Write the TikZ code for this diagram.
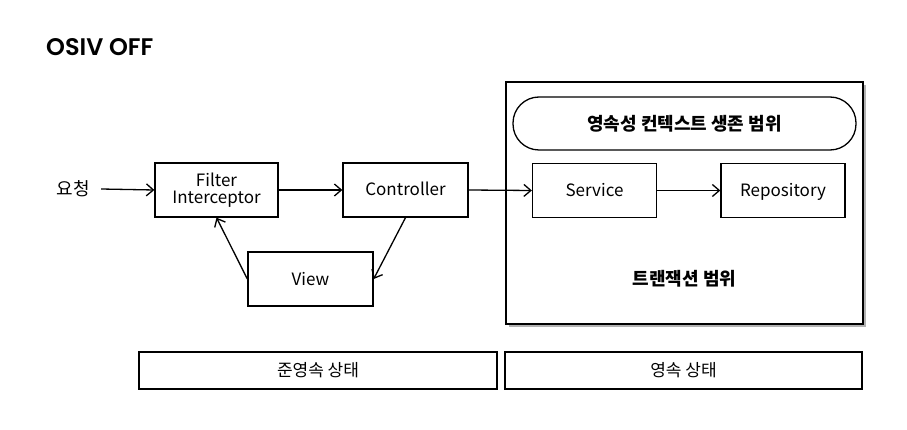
\documentclass[tikz,border=0pt]{standalone}
\usepackage{fontspec}
\setmainfont{Noto Sans CJK KR}
\newfontfamily\titlefont{Poppins}[BoldFont={* SemiBold}]
\usetikzlibrary{arrows.meta}
\tikzset{
  box/.style={draw, line width=1.3pt, inner sep=0pt, font=\fontsize{17}{20}\selectfont},
  oneline/.style={text height=12pt, text depth=0pt},
  arr/.style={line width=1.3pt, -{Straight Barb[length=7pt,width=12pt,line width=1.3pt]}},
  lbl/.style={font=\fontsize{18}{21}\selectfont\bfseries},
}
\begin{document}
\begin{tikzpicture}[x=1pt,y=-1pt]
\useasboundingbox (0,0) rectangle (907,430);
\node[anchor=base west, inner sep=0pt, font=\titlefont\bfseries\fontsize{24}{28}\selectfont] (title) at (46,56) {OSIV OFF};
% big transaction box with shadow
\fill[black!30] (509,85) rectangle (866,327);
\node[box, fill=white, minimum width=357pt, minimum height=242pt] (tx) at (684.5,203) {};
\node[draw, line width=1.3pt, rounded corners=26pt, minimum width=343pt, minimum height=53pt] (pc) at (684.5,123.5) {};
\node[lbl] (pclbl) at (684.5,124) {영속성 컨텍스트 생존 범위};
\node[lbl] (txlbl) at (684.5,279) {트랜잭션 범위};
% nodes
\node[font=\fontsize{18}{21}\selectfont] (req) at (73,189) {요청};
\node[box, minimum width=123pt, minimum height=54pt, align=center] (filter) at (216.5,190) {Filter\\[-3pt]Interceptor};
\node[box, oneline, minimum width=125pt, minimum height=54pt] (ctrl) at (405.5,190) {Controller};
\node[box, oneline, minimum width=124pt, minimum height=54pt] (svc) at (594.5,190.5) {Service};
\node[box, oneline, minimum width=124pt, minimum height=54pt] (repo) at (783,190.5) {Repository};
\node[box, oneline, minimum width=125pt, minimum height=54pt] (view) at (310.5,279) {View};
% bottom state boxes
\node[box, oneline, minimum width=358pt, minimum height=37pt] (detached) at (318,370.5) {준영속 상태};
\node[box, oneline, minimum width=357pt, minimum height=37pt] (managed) at (683.5,370.5) {영속 상태};
% arrows
\draw[arr] (req.east) ++(8,0) -- (filter.west);
\draw[arr] (filter.east) -- (ctrl.west);
\draw[arr] (ctrl.east) -- (svc.west);
\draw[arr] (svc.east) -- (repo.west);
\draw[arr] (ctrl.south) -- (view.east);
\draw[arr] (view.west) -- (filter.south);
\end{tikzpicture}
\end{document}
